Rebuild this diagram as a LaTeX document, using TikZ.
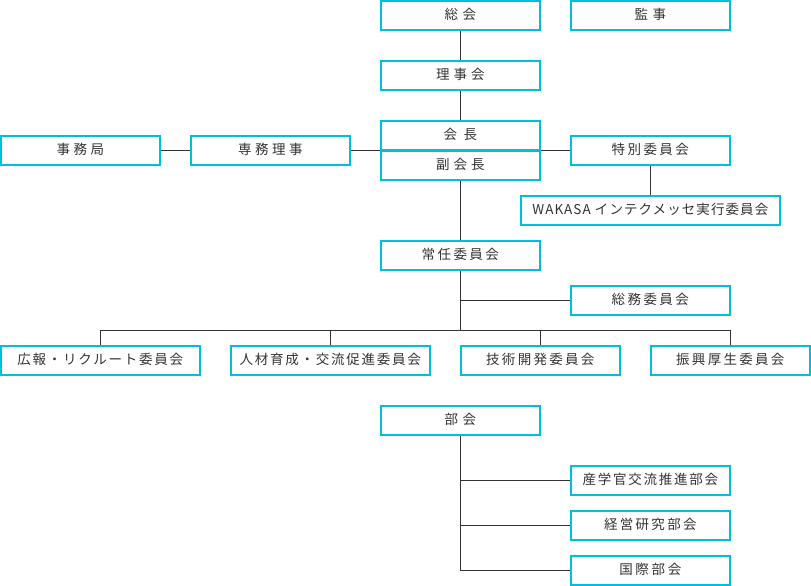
\documentclass[tikz,border=0pt]{standalone}
\usepackage{fontspec}
\setmainfont{Noto Sans CJK JP}
\usetikzlibrary{positioning}
\definecolor{frame}{RGB}{0,190,221}
\definecolor{ink}{RGB}{51,51,51}
\tikzset{
  every picture/.style={x=1pt, y=-1pt, line cap=butt},
  % Kästen
  box/.style={draw=frame, line width=1.6pt, fill=white, text=ink,
    minimum width=159pt, minimum height=29pt, inner sep=0pt,
    text height=0.88em, text depth=0.12em, font=\fontsize{13.5}{16}\selectfont\addfontfeature{LetterSpace=#1}},
  box/.default=15,
  wide/.style={box, minimum width=#1},
  % Verbindungen
  link/.style={draw=ink, line width=1pt},
}
\begin{document}
\begin{tikzpicture}
  \useasboundingbox (0,0) rectangle (811,586);
  % Leitung
  \node[box=33] (soukai) at (460.3,15.3) {総会};
  \node[box=33] (kanji) at (650.3,15.3) {監事};
  \node[box=30] (rijikai) at (460.3,75.3) {理事会};
  \node[box=48] (kaicho) at (460.3,135.3) {会長};
  \node[box=30] (fuku) at (460.3,165.3) {副会長};
  \node[box=26] (jimu) at (80.3,150.3) {事務局};
  \node[box=26] (senmu) at (270.3,150.3) {専務理事};
  \node[box=18] (tokubetsu) at (650.3,150.3) {特別委員会};
  \node[box=8, minimum width=259pt] (wakasa) at (650.3,210.3) {WAKASA インテクメッセ実行委員会};
  % Ausschüsse
  \node[box=18] (jonin) at (460.3,255.3) {常任委員会};
  \node[box=18] (somu) at (650.3,300.3) {総務委員会};
  \node[box=13, minimum width=199pt] (koho) at (100.3,360.3) {広報・リクルート委員会};
  \node[box=13, minimum width=199pt] (jinzai) at (330.3,360.3) {人材育成・交流促進委員会};
  \node[box=17] (gijutsu) at (540.3,360.3) {技術開発委員会};
  \node[box=17] (shinko) at (730.3,360.3) {振興厚生委員会};
  % Abteilungen
  \node[box=33] (bukai) at (460.3,420.3) {部会};
  \node[box=13] (sangaku) at (650.3,480.3) {産学官交流推進部会};
  \node[box=17] (keiei) at (650.3,525.3) {経営研究部会};
  \node[box=20] (kokusai) at (650.3,570.3) {国際部会};
  \coordinate (bus) at (460.3,330.3);

  \draw[link] (soukai) -- (rijikai);
  \draw[link] (rijikai) -- (kaicho);
  \draw[link] (jimu) -- (senmu);
  \draw[link] (senmu.east) -- (senmu.east -| kaicho.south west);
  \draw[link] (tokubetsu.west) -- (tokubetsu.west -| kaicho.south east);
  \draw[link] (tokubetsu) -- (wakasa);
  \draw[link] (fuku) -- (jonin);
  \draw[link] (jonin.south) -- (bus);
  \draw[link] (jonin.south |- somu.west) -- (somu.west);
  \draw[link] (koho.north |- bus) -- (shinko.north |- bus);
  \foreach \n in {koho,jinzai,gijutsu,shinko}
    \draw[link] (\n.north) -- (\n.north |- bus);
  \draw[link] (bukai.south) -- (bukai.south |- kokusai.west) -- (kokusai.west);
  \foreach \n in {sangaku,keiei}
    \draw[link] (bukai.south |- \n.west) -- (\n.west);
\end{tikzpicture}
\end{document}
